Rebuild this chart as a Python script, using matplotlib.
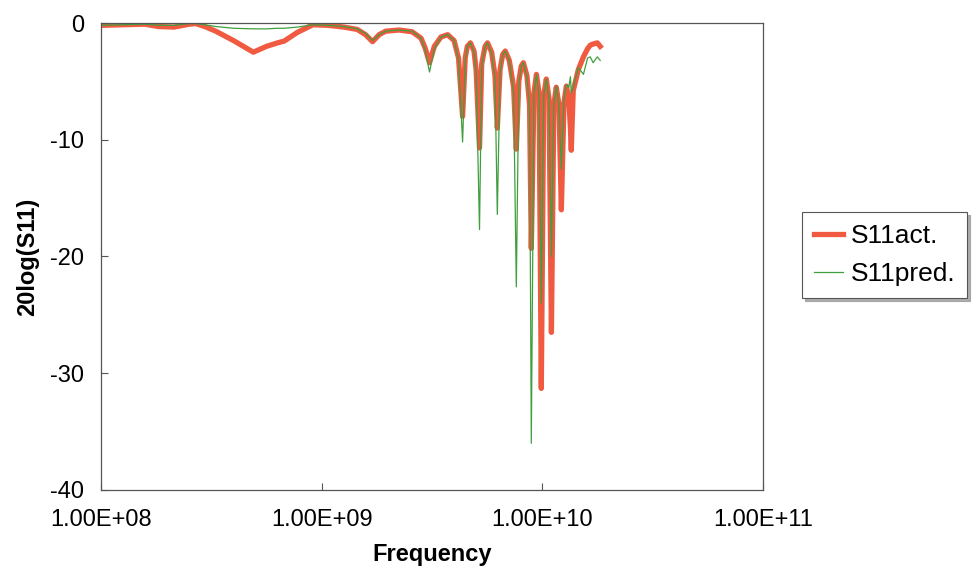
import matplotlib
matplotlib.use("Agg")
import matplotlib.pyplot as plt

plt.rcParams['font.family'] = ['Liberation Sans', 'DejaVu Sans']
plt.rcParams['axes.unicode_minus'] = False

# frequency in GHz
freq_ghz = [0.100, 0.126, 0.158, 0.182, 0.214, 0.251, 0.269, 0.295, 0.331, 0.398,
            0.490, 0.562, 0.631, 0.676, 0.776, 0.912, 1.07, 1.26, 1.45, 1.58,
            1.70, 1.82, 1.95, 2.24, 2.57, 2.82, 2.95, 3.08, 3.24, 3.47,
            3.72, 3.98, 4.17, 4.35, 4.47, 4.57, 4.72, 4.90, 5.01, 5.19,
            5.31, 5.50, 5.64, 5.89, 6.10, 6.25, 6.43, 6.61, 6.79, 7.08,
            7.41, 7.62, 7.82, 8.02, 8.20, 8.51, 8.75, 8.91, 9.16, 9.40,
            9.66, 9.89, 10.14, 10.42, 10.72, 10.99, 11.27, 11.56, 11.89, 12.19,
            12.53, 12.85, 13.18, 13.40, 13.52, 13.80, 14.55, 15.35, 16.03, 16.48,
            16.98, 17.74, 18.28]

s11_act = [-0.2, -0.15, -0.1, -0.3, -0.35, -0.1, -0.05, -0.3, -0.7, -1.5,
           -2.5, -2.0, -1.7, -1.55, -0.8, -0.15, -0.2, -0.35, -0.55, -1.0,
           -1.6, -1.0, -0.7, -0.6, -0.75, -1.3, -2.2, -3.4, -2.0, -1.2,
           -1.0, -1.5, -3.0, -8.0, -3.0, -2.0, -1.7, -2.4, -4.0, -10.7,
           -3.5, -2.0, -1.7, -2.5, -4.5, -9.0, -4.0, -2.7, -2.4, -3.2,
           -5.5, -10.8, -5.0, -3.7, -3.4, -4.5, -7.0, -19.3, -6.0, -4.4,
           -6.0, -31.3, -6.2, -4.8, -6.5, -26.5, -7.0, -5.5, -7.0, -16.0,
           -6.8, -5.4, -6.5, -9.0, -10.9, -5.8, -4.0, -2.9, -2.2, -1.9,
           -1.8, -1.7, -2.0]

s11_pred = [-0.2, -0.15, -0.1, -0.2, -0.2, -0.05, -0.05, -0.15, -0.3, -0.45,
            -0.5, -0.5, -0.45, -0.45, -0.35, -0.15, -0.2, -0.3, -0.5, -0.9,
            -1.5, -1.0, -0.7, -0.6, -0.7, -1.3, -2.4, -4.2, -2.2, -1.2,
            -1.0, -1.5, -3.2, -10.2, -3.3, -2.0, -1.7, -2.5, -4.3, -17.7,
            -3.8, -2.0, -1.7, -2.6, -4.8, -16.4, -4.3, -2.7, -2.4, -3.2,
            -6.0, -22.6, -5.3, -3.7, -3.4, -4.6, -7.5, -36.0, -6.0, -4.4,
            -6.2, -24.0, -6.2, -4.8, -6.5, -20.0, -7.0, -5.4, -7.0, -12.5,
            -6.5, -5.3, -5.5, -4.6, -6.0, -5.5, -3.8, -4.4, -3.0, -2.9,
            -3.4, -2.9, -3.2]

x_ticks = [1e8, 1e9, 1e10, 1e11]
x_tick_labels = ["1.00E+08", "1.00E+09", "1.00E+10", "1.00E+11"]
y_ticks = [0, -10, -20, -30, -40]

freq_hz = [f * 1e9 for f in freq_ghz]

fig = plt.figure(figsize=(9.8, 5.71), dpi=100)
ax = fig.add_axes([0.1031, 0.1419, 0.6755, 0.8178])

ax.plot(freq_hz, s11_act, color="#f05a40", lw=3.8, label="S11act.")
ax.plot(freq_hz, s11_pred, color="#3f9f3f", lw=0.9, label="S11pred.")

ax.set_xscale("log")
ax.set_xlim(1e8, 1e11)
ax.set_ylim(-40, 0)
ax.set_xticks(x_ticks)
ax.set_xticklabels(x_tick_labels)
ax.minorticks_off()
ax.set_yticks(y_ticks)
ax.tick_params(direction="in", length=5, width=0.8, color="#555555",
               labelsize=17)
ax.tick_params(axis="x", pad=14)
ax.tick_params(axis="y", pad=12)

for sp in ax.spines.values():
    sp.set_color("#555555")
    sp.set_linewidth(0.9)

ax.set_xlabel("Frequency", fontsize=17, fontweight="bold", labelpad=8)
ax.set_ylabel("20log(S11)", fontsize=17, fontweight="bold", labelpad=8)

leg = fig.legend(loc="center left", bbox_to_anchor=(0.8184, 0.553),
                 fontsize=19, frameon=True, fancybox=False,
                 edgecolor="#555555", handlelength=1.1, handletextpad=0.3,
                 labelspacing=0.55, borderpad=0.45, borderaxespad=0,
                 shadow={"color": "0.6", "alpha": 0.8})
leg.get_frame().set_linewidth(0.8)

fig.savefig("out.png", dpi=100)
